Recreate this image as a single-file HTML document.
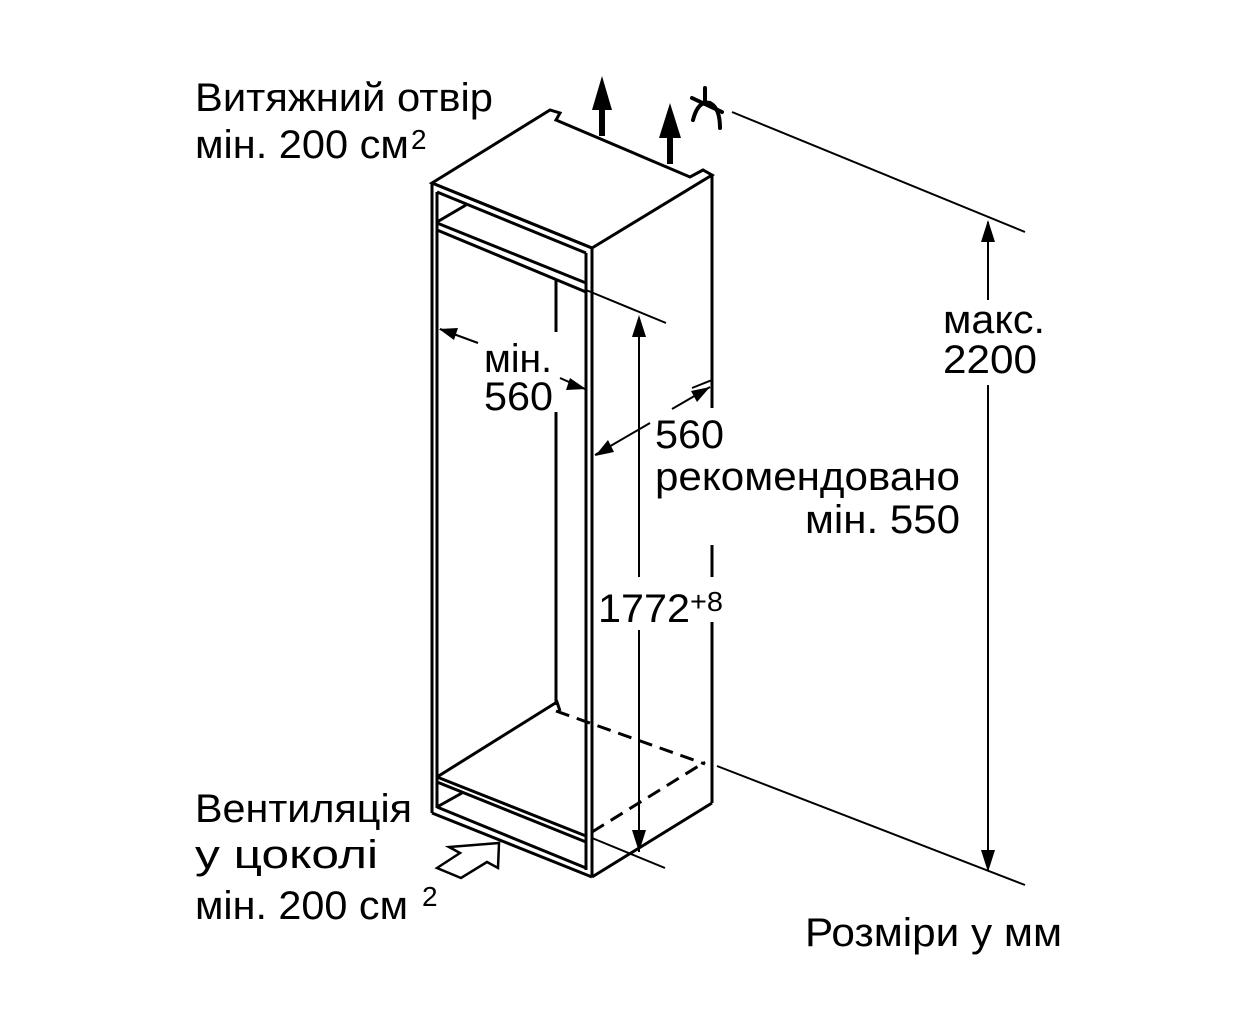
<!DOCTYPE html>
<html><head><meta charset="utf-8"><style>
html,body{margin:0;padding:0;background:#fff;}
svg{display:block}
text{font-family:"Liberation Sans",sans-serif;fill:#000}
</style></head><body>
<svg width="1252" height="1024" viewBox="0 0 1252 1024" xmlns="http://www.w3.org/2000/svg">
<g stroke="#000" stroke-width="3" fill="none" stroke-linejoin="miter">
<path d="M432,183 L550,110 L560,113 L556,120 L690,177 L703,170 L712,175 L592,248 Z"/>
<line x1="432" y1="183" x2="592" y2="248"/>
<line x1="432" y1="183" x2="432" y2="813"/>
<line x1="592" y1="248" x2="592" y2="877"/>
<line x1="586" y1="253" x2="586" y2="870"/>
<line x1="712" y1="175" x2="712" y2="408"/>
<line x1="712" y1="545" x2="712" y2="577"/>
<line x1="712" y1="622" x2="712" y2="803"/>
<line x1="437" y1="192" x2="437" y2="808"/>
<line x1="432" y1="813" x2="592" y2="877"/>
<line x1="592" y1="877" x2="712" y2="803"/>
<line x1="437" y1="192" x2="586" y2="253"/>
<line x1="437" y1="223" x2="586" y2="283"/>
<line x1="437" y1="230" x2="586" y2="292"/>
<line x1="437" y1="222" x2="466" y2="205"/>
<line x1="556" y1="280" x2="556" y2="332"/>
<line x1="556" y1="412" x2="556" y2="705"/>
<path d="M437,777 L557,702 L560,711"/>
<line x1="437" y1="777" x2="586" y2="836"/>
<line x1="437" y1="782" x2="586" y2="842"/>
<line x1="437" y1="807" x2="586" y2="868"/>
<line x1="437" y1="807" x2="462" y2="793"/>
<line x1="437" y1="782" x2="437" y2="807"/>
<line x1="556" y1="711" x2="705" y2="764" stroke-dasharray="14,8"/>
<line x1="592" y1="832" x2="705" y2="762" stroke-dasharray="14,8"/>
<line x1="586" y1="290" x2="666" y2="323" stroke-width="2"/>
<line x1="592" y1="838" x2="665" y2="868" stroke-width="2"/>
<line x1="732" y1="112" x2="1025" y2="232" stroke-width="2"/>
<line x1="717" y1="766" x2="1025" y2="885" stroke-width="2"/>
<line x1="692" y1="388" x2="712" y2="380" stroke-width="2"/>
</g>
<g stroke="#000" stroke-width="2" fill="none">
<line x1="639" y1="318" x2="639" y2="577"/>
<line x1="639" y1="630" x2="639" y2="852"/>
<line x1="988" y1="222" x2="988" y2="300"/>
<line x1="988" y1="385" x2="988" y2="870"/>
<line x1="440" y1="329" x2="478" y2="343"/>
<line x1="560" y1="378" x2="585" y2="389"/>
<line x1="595" y1="455" x2="650" y2="423"/>
<line x1="672" y1="409" x2="710" y2="387"/>
</g>
<g fill="#000">
<path d="M639,315 L632,337 L646,337Z"/>
<path d="M639,852 L632,830 L646,830Z"/>
<path d="M988,220 L981,242 L995,242Z"/>
<path d="M988,872 L981,850 L995,850Z"/>
<path d="M439,329 L458,328 L454,340Z"/>
<path d="M586,389 L566,390 L570,378Z"/>
<path d="M595,456 L608,440 L614,452Z"/>
<path d="M710,387 L697,402 L691,391Z"/>
<path d="M602,76 L592,110 L612,110Z"/>
<rect x="599" y="108" width="6" height="28"/>
<path d="M670,103 L659,138 L681,138Z"/>
<rect x="667" y="136" width="6" height="28"/>
</g>
<g stroke="#000" stroke-width="4" fill="none" stroke-linecap="round">
<line x1="705" y1="88" x2="705" y2="104"/>
<line x1="692" y1="98" x2="722" y2="112"/>
<path d="M693,120 Q698,100 710,103 Q720,108 720,128"/>
</g>
<path d="M437,868 L460,853 L449,847 L499,843 L498,868 L487,862 L461,878 Z" fill="#fff" stroke="#000" stroke-width="2.5" stroke-linejoin="miter"/>
<g style="font-size:40px">
<text x="195" y="111" textLength="298" lengthAdjust="spacingAndGlyphs">Витяжний отвір</text>
<text x="195" y="158" textLength="214" lengthAdjust="spacingAndGlyphs">мін. 200 см</text>
<text x="943" y="333" textLength="102" lengthAdjust="spacingAndGlyphs">макс.</text>
<text x="943" y="373" textLength="94" lengthAdjust="spacingAndGlyphs">2200</text>
<text x="484" y="372" textLength="68" lengthAdjust="spacingAndGlyphs">мін.</text>
<text x="484" y="410" textLength="69" lengthAdjust="spacingAndGlyphs">560</text>
<text x="655" y="448" textLength="69" lengthAdjust="spacingAndGlyphs">560</text>
<text x="655" y="490" textLength="305" lengthAdjust="spacingAndGlyphs">рекомендовано</text>
<text x="805" y="533" textLength="155" lengthAdjust="spacingAndGlyphs">мін. 550</text>
<text x="598" y="622" textLength="92" lengthAdjust="spacingAndGlyphs">1772</text>
<text x="195" y="822" textLength="217" lengthAdjust="spacingAndGlyphs">Вентиляція</text>
<text x="195" y="868" textLength="183" lengthAdjust="spacingAndGlyphs">у цоколі</text>
<text x="195" y="919" textLength="213" lengthAdjust="spacingAndGlyphs">мін. 200 см</text>
<text x="805" y="946" textLength="257" lengthAdjust="spacingAndGlyphs">Розміри у мм</text>
</g>
<g style="font-size:28px">
<text x="411" y="149">2</text>
<text x="690" y="611" textLength="33" lengthAdjust="spacingAndGlyphs">+8</text>
<text x="422" y="906">2</text>
</g>
</svg>
</body></html>
